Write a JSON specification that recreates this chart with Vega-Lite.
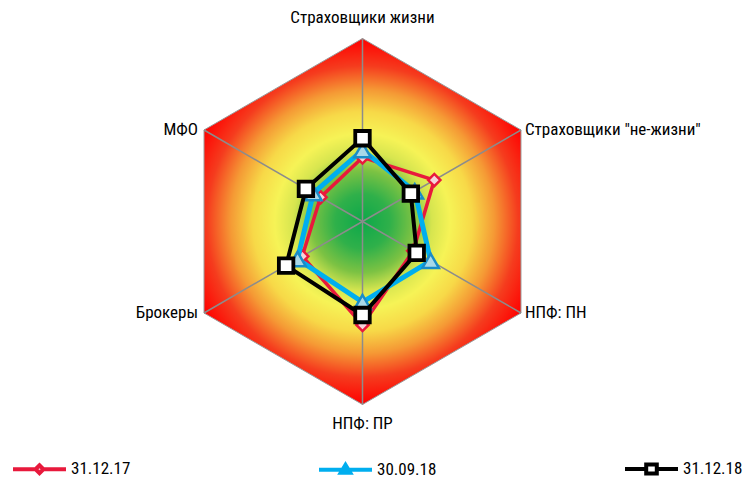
{
  "$schema": "https://vega.github.io/schema/vega-lite/v6.json",
  "width": 749,
  "height": 486,
  "padding": 0,
  "autosize": {"type": "none"},
  "background": "white",
  "config": {"view": {"stroke": null}, "font": "Roboto Condensed, Roboto, sans-serif"},
  "datasets": {
    "axes": [
      {"axis": "Страховщики жизни"},
      {"axis": "Страховщики \"не-жизни\""},
      {"axis": "НПФ: ПН"},
      {"axis": "НПФ: ПР"},
      {"axis": "Брокеры"},
      {"axis": "МФО"}
    ],
    "values": [
      {"series": "31.12.17", "axis": "Страховщики жизни", "value": 0.35},
      {"series": "31.12.17", "axis": "Страховщики \"не-жизни\"", "value": 0.453},
      {"series": "31.12.17", "axis": "НПФ: ПН", "value": 0.32},
      {"series": "31.12.17", "axis": "НПФ: ПР", "value": 0.565},
      {"series": "31.12.17", "axis": "Брокеры", "value": 0.38},
      {"series": "31.12.17", "axis": "МФО", "value": 0.265},
      {"series": "30.09.18", "axis": "Страховщики жизни", "value": 0.39},
      {"series": "30.09.18", "axis": "Страховщики \"не-жизни\"", "value": 0.33},
      {"series": "30.09.18", "axis": "НПФ: ПН", "value": 0.43},
      {"series": "30.09.18", "axis": "НПФ: ПР", "value": 0.44},
      {"series": "30.09.18", "axis": "Брокеры", "value": 0.41},
      {"series": "30.09.18", "axis": "МФО", "value": 0.31},
      {"series": "31.12.18", "axis": "Страховщики жизни", "value": 0.455},
      {"series": "31.12.18", "axis": "Страховщики \"не-жизни\"", "value": 0.305},
      {"series": "31.12.18", "axis": "НПФ: ПН", "value": 0.342},
      {"series": "31.12.18", "axis": "НПФ: ПР", "value": 0.511},
      {"series": "31.12.18", "axis": "Брокеры", "value": 0.482},
      {"series": "31.12.18", "axis": "МФО", "value": 0.357}
    ]
  },
  "encoding": {
    "x": {"field": "x", "type": "quantitative", "scale": {"domain": [-1.98087, 2.11202], "nice": false, "zero": false}, "axis": null},
    "y": {"field": "y", "type": "quantitative", "scale": {"domain": [-1.44536, 1.21038], "nice": false, "zero": false}, "axis": null}
  },
  "layer": [
    {
      "data": {"name": "axes"},
      "transform": [
        {"calculate": "indexof(['Страховщики жизни','Страховщики \"не-жизни\"','НПФ: ПН','НПФ: ПР','Брокеры','МФО'], datum.axis)", "as": "idx"},
        {"calculate": "PI/2 - datum.idx*PI/3", "as": "ang"},
        {"calculate": "cos(datum.ang)", "as": "x"},
        {"calculate": "sin(datum.ang)", "as": "y"}
      ],
      "layer": [
        {
          "mark": {
            "type": "line", "interpolate": "linear-closed", "stroke": "#9a9a9a", "strokeWidth": 1,
            "fill": {"gradient": "radial", "x1": 0.5, "y1": 0.5, "r1": 0, "x2": 0.5, "y2": 0.5, "r2": 0.5,
              "stops": [
                {"offset": 0, "color": "#0ca84a"},
                {"offset": 0.15, "color": "#2fb04a"},
                {"offset": 0.28, "color": "#7cc243"},
                {"offset": 0.38, "color": "#d6e54f"},
                {"offset": 0.48, "color": "#f6f356"},
                {"offset": 0.6, "color": "#f7d948"},
                {"offset": 0.72, "color": "#f59a35"},
                {"offset": 0.85, "color": "#f53c1e"},
                {"offset": 1, "color": "#ff0000"}
              ]}
          },
          "encoding": {"order": {"field": "idx", "type": "quantitative"}}
        },
        {
          "mark": {"type": "rule", "stroke": "#8c8c8c", "strokeWidth": 1.5},
          "encoding": {"x2": {"datum": 0}, "y2": {"datum": 0}}
        },
        {
          "transform": [{"filter": "datum.idx == 0"}],
          "mark": {"type": "text", "align": "center", "baseline": "middle", "dy": -20.5, "fontSize": 17, "fill": "black"},
          "encoding": {"text": {"field": "axis"}}
        },
        {
          "transform": [{"filter": "datum.idx == 3"}],
          "mark": {"type": "text", "align": "center", "baseline": "middle", "dy": 19.5, "fontSize": 17, "fill": "black"},
          "encoding": {"text": {"field": "axis"}}
        },
        {
          "transform": [{"filter": "datum.idx == 1 || datum.idx == 2"}],
          "mark": {"type": "text", "align": "left", "baseline": "middle", "dx": 4, "fontSize": 17, "fill": "black"},
          "encoding": {"text": {"field": "axis"}}
        },
        {
          "transform": [{"filter": "datum.idx == 4 || datum.idx == 5"}],
          "mark": {"type": "text", "align": "right", "baseline": "middle", "dx": -6, "fontSize": 17, "fill": "black"},
          "encoding": {"text": {"field": "axis"}}
        }
      ]
    },
    {
      "data": {"name": "values"},
      "transform": [
        {"calculate": "indexof(['Страховщики жизни','Страховщики \"не-жизни\"','НПФ: ПН','НПФ: ПР','Брокеры','МФО'], datum.axis)", "as": "idx"},
        {"calculate": "PI/2 - datum.idx*PI/3", "as": "ang"},
        {"calculate": "datum.value*cos(datum.ang)", "as": "x"},
        {"calculate": "datum.value*sin(datum.ang)", "as": "y"}
      ],
      "layer": [
        {
          "transform": [{"filter": "datum.series == '31.12.17'"}],
          "layer": [
            {
              "mark": {"type": "line", "interpolate": "linear-closed", "strokeWidth": 3.5},
              "encoding": {
                "order": {"field": "idx", "type": "quantitative"},
                "color": {"field": "series", "type": "nominal",
                  "scale": {"domain": ["31.12.17", "30.09.18", "31.12.18"], "range": ["#e8193c", "#00aeef", "#000000"]},
                  "legend": {
                    "orient": "none", "legendX": 11, "legendY": 440, "direction": "horizontal", "title": null,
                    "symbolSize": 2809, "symbolStrokeWidth": 4, "labelFontSize": 17, "labelColor": "black",
                    "labelFont": "Roboto Condensed, Roboto, sans-serif",
                    "labelOffset": 3, "columnPadding": 180, "padding": 0,
                    "encode": {"symbols": {"update": {
                      "shape": {"signal": "datum.value === '31.12.17' ? 'M-1,0H-0.15M-0.15,0L0,-0.15L0.15,0L0,0.15ZM0.15,0H1' : datum.value === '30.09.18' ? 'M-1,0H1M-0.18,0.12L0,-0.18L0.18,0.12Z' : 'M-1,0H-0.2M-0.2,-0.17H0.2V0.17H-0.2ZM0.2,0H1'"},
                      "fill": {"signal": "datum.value === '31.12.17' ? '#f5c6d0' : datum.value === '30.09.18' ? '#1b75bb' : '#ffffff'"},
                      "strokeWidth": {"value": 4},
                      "opacity": {"value": 1}
                    }}}
                  }}
              }
            },
            {"mark": {"type": "point", "shape": "diamond", "size": 150, "filled": true, "fill": "#f5d3da", "stroke": "#e8193c", "strokeWidth": 2.5, "opacity": 1}}
          ]
        },
        {
          "transform": [{"filter": "datum.series == '30.09.18'"}],
          "layer": [
            {
              "mark": {"type": "line", "interpolate": "linear-closed", "strokeWidth": 5},
              "encoding": {
                "order": {"field": "idx", "type": "quantitative"},
                "color": {"field": "series", "type": "nominal"}
              }
            },
            {"mark": {"type": "point", "shape": "triangle-up", "size": 270, "filled": true, "fill": "#a9d8e8", "stroke": "#1a8cc8", "strokeWidth": 2.5, "opacity": 1}}
          ]
        },
        {
          "transform": [{"filter": "datum.series == '31.12.18'"}],
          "layer": [
            {
              "mark": {"type": "line", "interpolate": "linear-closed", "strokeWidth": 4},
              "encoding": {
                "order": {"field": "idx", "type": "quantitative"},
                "color": {"field": "series", "type": "nominal"}
              }
            },
            {"mark": {"type": "point", "shape": "square", "size": 210, "filled": true, "fill": "#ffffff", "stroke": "#000000", "strokeWidth": 3.8, "opacity": 1}}
          ]
        }
      ]
    }
  ]
}
